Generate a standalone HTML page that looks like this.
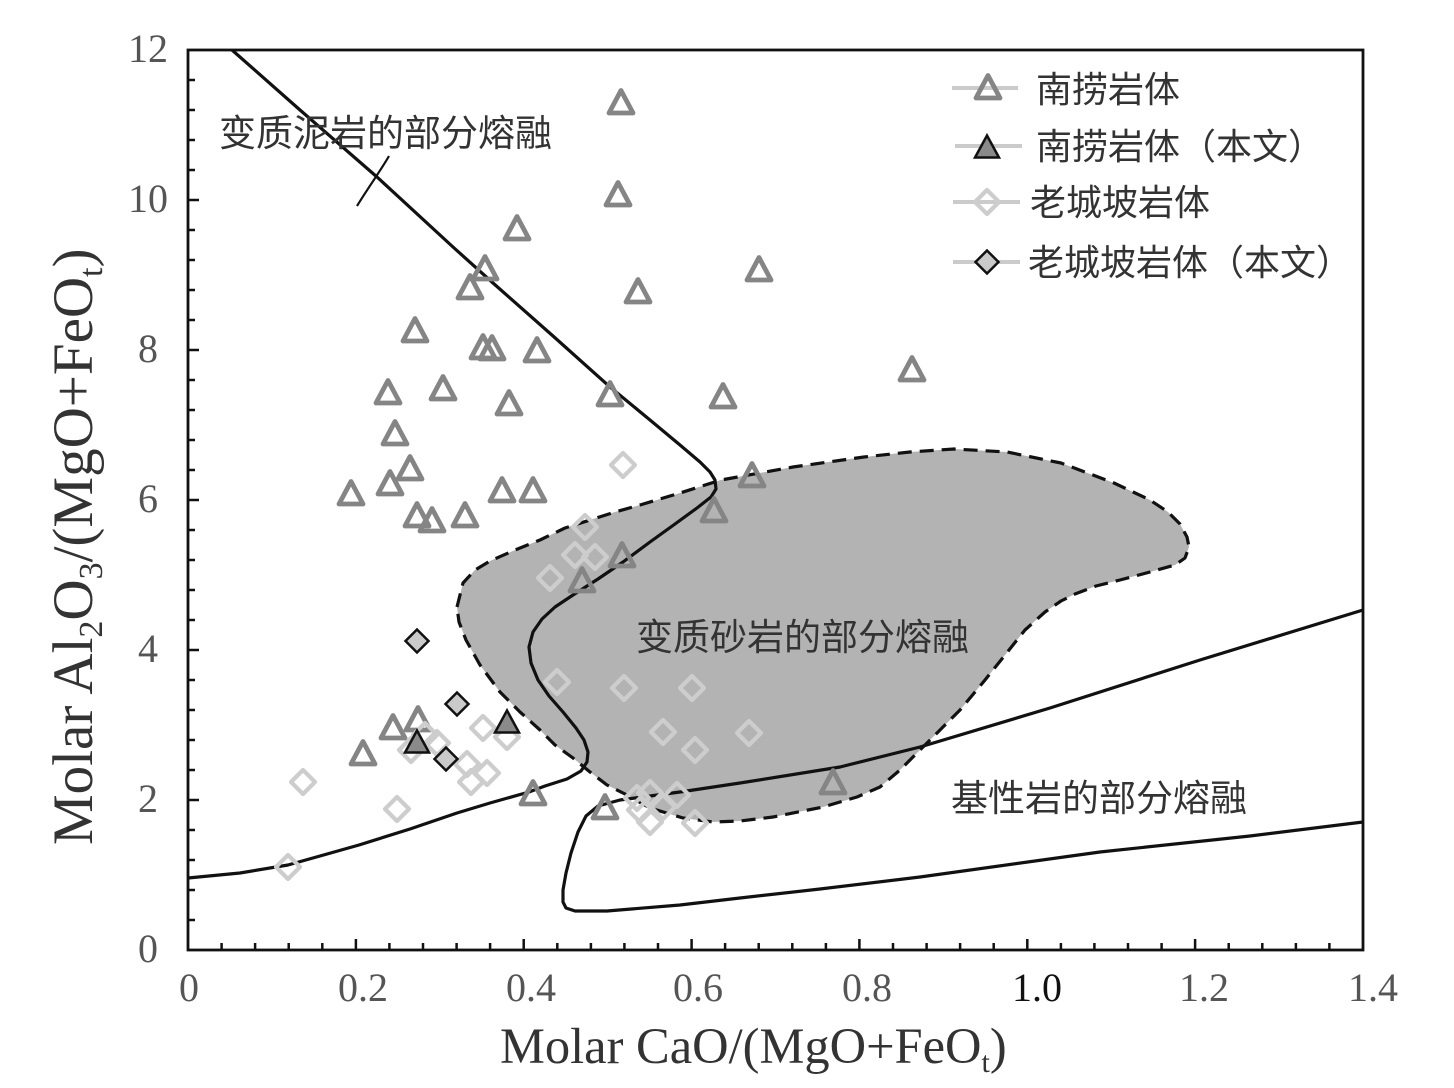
<!DOCTYPE html>
<html>
<head>
<meta charset="utf-8">
<style>
html,body{margin:0;padding:0;background:#fff;}
svg{display:block;}
.num{font-family:"Liberation Serif",serif;font-size:40px;fill:#555;}
.cn{font-family:"Liberation Sans","Noto Sans CJK SC",sans-serif;fill:#333;}
.ttl{font-family:"Liberation Serif",serif;fill:#333;}
</style>
</head>
<body>
<svg width="1454" height="1088" viewBox="0 0 1454 1088" xmlns="http://www.w3.org/2000/svg">
<defs>
<path id="tri" d="M0,-11.5 L12,11 L-12,11 Z" fill="none" stroke="#858585" stroke-width="4.8" stroke-linejoin="round"/>
<path id="trif" d="M0,-11.5 L12,10.5 L-12,10.5 Z" fill="#8a8a8a" stroke="#111" stroke-width="2.5" stroke-linejoin="miter"/>
<path id="dia" d="M0,-12 L12,0 L0,12 L-12,0 Z" fill="none" stroke="#cdcdcd" stroke-width="4.2" stroke-linejoin="round"/>
<path id="diaf" d="M0,-11.5 L11.5,0 L0,11.5 L-11.5,0 Z" fill="#cacaca" stroke="#111" stroke-width="2.5"/>
</defs>
<rect width="1454" height="1088" fill="#fff"/>

<!-- shaded region -->
<path d="M457,607 L463,583 L475,570 L490,561 L515,550 L540,540 L565,528 L590,520 L615,512 L640,505 L680,493 L721,480 L793,467 L864,457 L910,452 L954,449 L1007,452 L1061,463 L1114,483 L1150,500 L1168,512 L1180,524 L1187,537 L1189,547 L1185,558 L1175,565 L1150,572 L1120,580 L1096,586 L1075,594 L1061,601 L1045,612 L1025,630 L1005,655 L985,680 L960,710 L940,730 L920,750 L900,770 L880,787 L857,797 L823,807 L773,817 L740,821 L713,822 L683,818 L650,808 L627,795 L607,785 L590,772 L573,758 L555,745 L540,730 L520,712 L500,692 L480,665 L466,640 L459,622 Z" fill="#b3b3b3" stroke="#111" stroke-width="3.2" stroke-dasharray="14 8" stroke-linejoin="round"/>

<!-- curve 1 -->
<path d="M232,50 L300,110 L377,177 L453,247 L493,283 L553,336 L610,387 L650,420 L680,445 L700,462 L710,472 L715,480 L716,489 L711,497 L697,508 L675,524 L650,542 L623,562 L598,579 L573,595 L555,607 L542,619 L533,632 L529,647 L531,663 L538,680 L549,696 L563,712 L576,728 L584,740 L588,752 L587,762 L581,771 L567,779 L545,786 L529,792 L490,803 L457,813 L410,829 L359,845 L320,856 L288,865 L240,873 L188,878" fill="none" stroke="#111" stroke-width="3.2" stroke-linejoin="round"/>

<!-- curve 2 -->
<path d="M1363,610 L1200,660 L1050,708 L920,747 L840,767 L740,783 L680,792 L620,800 L598,806 L586,816 L578,832 L571,853 L566,873 L563,890 L563,902 L566,908 L575,911 L607,911 L680,905 L740,898 L820,889 L920,877 L1100,852 L1250,836 L1363,822" fill="none" stroke="#111" stroke-width="3.2" stroke-linejoin="round"/>

<!-- bracket mark -->
<path d="M389,156 C381,170 368,188 357,206" fill="none" stroke="#111" stroke-width="2.2"/>

<!-- gray triangles -->
<g>
<use href="#tri" x="621" y="102"/>
<use href="#tri" x="618" y="194"/>
<use href="#tri" x="517" y="228"/>
<use href="#tri" x="485" y="268"/>
<use href="#tri" x="470" y="287"/>
<use href="#tri" x="759" y="269"/>
<use href="#tri" x="638" y="291"/>
<use href="#tri" x="415" y="330"/>
<use href="#tri" x="483" y="347"/>
<use href="#tri" x="492" y="348"/>
<use href="#tri" x="537" y="350"/>
<use href="#tri" x="388" y="392"/>
<use href="#tri" x="443" y="388"/>
<use href="#tri" x="509" y="403"/>
<use href="#tri" x="610" y="394"/>
<use href="#tri" x="723" y="396"/>
<use href="#tri" x="912" y="369"/>
<use href="#tri" x="395" y="433"/>
<use href="#tri" x="410" y="468"/>
<use href="#tri" x="390" y="483"/>
<use href="#tri" x="351" y="493"/>
<use href="#tri" x="502" y="490"/>
<use href="#tri" x="533" y="490"/>
<use href="#tri" x="752" y="475"/>
<use href="#tri" x="714" y="510"/>
<use href="#tri" x="465" y="515"/>
<use href="#tri" x="417" y="515"/>
<use href="#tri" x="432" y="520"/>
<use href="#tri" x="622" y="555"/>
<use href="#tri" x="582" y="580"/>
<use href="#tri" x="393" y="727"/>
<use href="#tri" x="418" y="719"/>
<use href="#tri" x="363" y="753"/>
<use href="#tri" x="533" y="793"/>
<use href="#tri" x="605" y="807"/>
<use href="#tri" x="833" y="782"/>
</g>

<!-- light diamonds -->
<g>
<use href="#dia" x="623" y="465"/>
<use href="#dia" x="585" y="527"/>
<use href="#dia" x="575" y="555"/>
<use href="#dia" x="595" y="557"/>
<use href="#dia" x="550" y="578"/>
<use href="#dia" x="557" y="682"/>
<use href="#dia" x="624" y="688"/>
<use href="#dia" x="692" y="688"/>
<use href="#dia" x="663" y="732"/>
<use href="#dia" x="695" y="750"/>
<use href="#dia" x="749" y="733"/>
<use href="#dia" x="303" y="782"/>
<use href="#dia" x="397" y="809"/>
<use href="#dia" x="288" y="867"/>
<use href="#dia" x="411" y="750"/>
<use href="#dia" x="425" y="735"/>
<use href="#dia" x="437" y="743"/>
<use href="#dia" x="483" y="728"/>
<use href="#dia" x="507" y="737"/>
<use href="#dia" x="467" y="764"/>
<use href="#dia" x="487" y="773"/>
<use href="#dia" x="471" y="782"/>
<use href="#dia" x="637" y="798"/>
<use href="#dia" x="650" y="793"/>
<use href="#dia" x="677" y="795"/>
<use href="#dia" x="640" y="810"/>
<use href="#dia" x="663" y="807"/>
<use href="#dia" x="650" y="822"/>
<use href="#dia" x="695" y="823"/>
</g>

<!-- this paper -->
<use href="#trif" x="417" y="742"/>
<use href="#trif" x="507" y="722"/>
<use href="#diaf" x="417" y="641"/>
<use href="#diaf" x="457" y="704"/>
<use href="#diaf" x="446" y="759"/>

<!-- region labels -->
<text class="cn" x="219" y="146" font-size="37">变质泥岩的部分熔融</text>
<text class="cn" x="636" y="650" font-size="37">变质砂岩的部分熔融</text>
<text class="cn" x="951" y="811" font-size="37">基性岩的部分熔融</text>

<!-- axes box -->
<rect x="188" y="50" width="1175" height="900" fill="none" stroke="#111" stroke-width="2.8"/>

<!-- ticks -->
<path stroke="#111" stroke-width="2.5" fill="none" d="
M221.6,950 v-7 M255.1,950 v-7 M288.7,950 v-7 M322.3,950 v-7 M355.9,950 v-11
M389.4,950 v-7 M423,950 v-7 M456.6,950 v-7 M490.1,950 v-7 M523.7,950 v-11
M557.3,950 v-7 M590.9,950 v-7 M624.4,950 v-7 M658,950 v-7 M691.6,950 v-11
M725.1,950 v-7 M758.7,950 v-7 M792.3,950 v-7 M825.9,950 v-7 M859.4,950 v-11
M893,950 v-7 M926.6,950 v-7 M960.1,950 v-7 M993.7,950 v-7 M1027.3,950 v-11
M1060.9,950 v-7 M1094.4,950 v-7 M1128,950 v-7 M1161.6,950 v-7 M1195.1,950 v-11
M1228.7,950 v-7 M1262.3,950 v-7 M1295.9,950 v-7 M1329.4,950 v-7
M188,920 h7 M188,890 h7 M188,860 h7 M188,830 h7 M188,800 h11
M188,770 h7 M188,740 h7 M188,710 h7 M188,680 h7 M188,650 h11
M188,620 h7 M188,590 h7 M188,560 h7 M188,530 h7 M188,500 h11
M188,470 h7 M188,440 h7 M188,410 h7 M188,380 h7 M188,350 h11
M188,320 h7 M188,290 h7 M188,260 h7 M188,230 h7 M188,200 h11
M188,170 h7 M188,140 h7 M188,110 h7 M188,80 h7
"/>

<!-- y tick labels -->
<g class="num" text-anchor="middle">
<text x="148" y="962">0</text>
<text x="148" y="812">2</text>
<text x="148" y="662">4</text>
<text x="148" y="512">6</text>
<text x="148" y="362">8</text>
<text x="148" y="212">10</text>
<text x="148" y="62">12</text>
</g>
<!-- x tick labels -->
<g class="num" text-anchor="middle">
<text x="189" y="1001">0</text>
<text x="363" y="1001">0.2</text>
<text x="531" y="1001">0.4</text>
<text x="698" y="1001">0.6</text>
<text x="867" y="1001">0.8</text>
<text x="1037" y="1001" fill="#111">1.0</text>
<text x="1204" y="1001">1.2</text>
<text x="1373" y="1001">1.4</text>
</g>

<!-- axis titles -->
<text class="ttl" x="500" y="1063" font-size="50.5">Molar CaO/(MgO+FeO<tspan font-size="30" dy="9">t</tspan><tspan dy="-9">)</tspan></text>
<text class="ttl" transform="translate(92,845) rotate(-90)" x="0" y="0" font-size="57">Molar Al<tspan font-size="34" dy="10">2</tspan><tspan dy="-10">O</tspan><tspan font-size="34" dy="10">3</tspan><tspan dy="-10">/(MgO+FeO</tspan><tspan font-size="34" dy="10">t</tspan><tspan dy="-10">)</tspan></text>

<!-- legend -->
<g stroke="#cbcbcb" stroke-width="4">
<line x1="952" y1="88" x2="1018" y2="88"/>
<line x1="955" y1="146" x2="1022" y2="146"/>
<line x1="953" y1="202" x2="1020" y2="202"/>
<line x1="953" y1="262" x2="1020" y2="262"/>
</g>
<use href="#tri" x="988" y="87"/>
<use href="#trif" x="987" y="147"/>
<use href="#dia" x="987" y="202"/>
<use href="#diaf" x="987" y="262"/>
<text class="cn" x="1036" y="102" font-size="36">南捞岩体</text>
<text class="cn" x="1036" y="159" font-size="36">南捞岩体（本文）</text>
<text class="cn" x="1030" y="215" font-size="36">老城坡岩体</text>
<text class="cn" x="1028" y="275" font-size="36">老城坡岩体（本文）</text>
</svg>
</body>
</html>
